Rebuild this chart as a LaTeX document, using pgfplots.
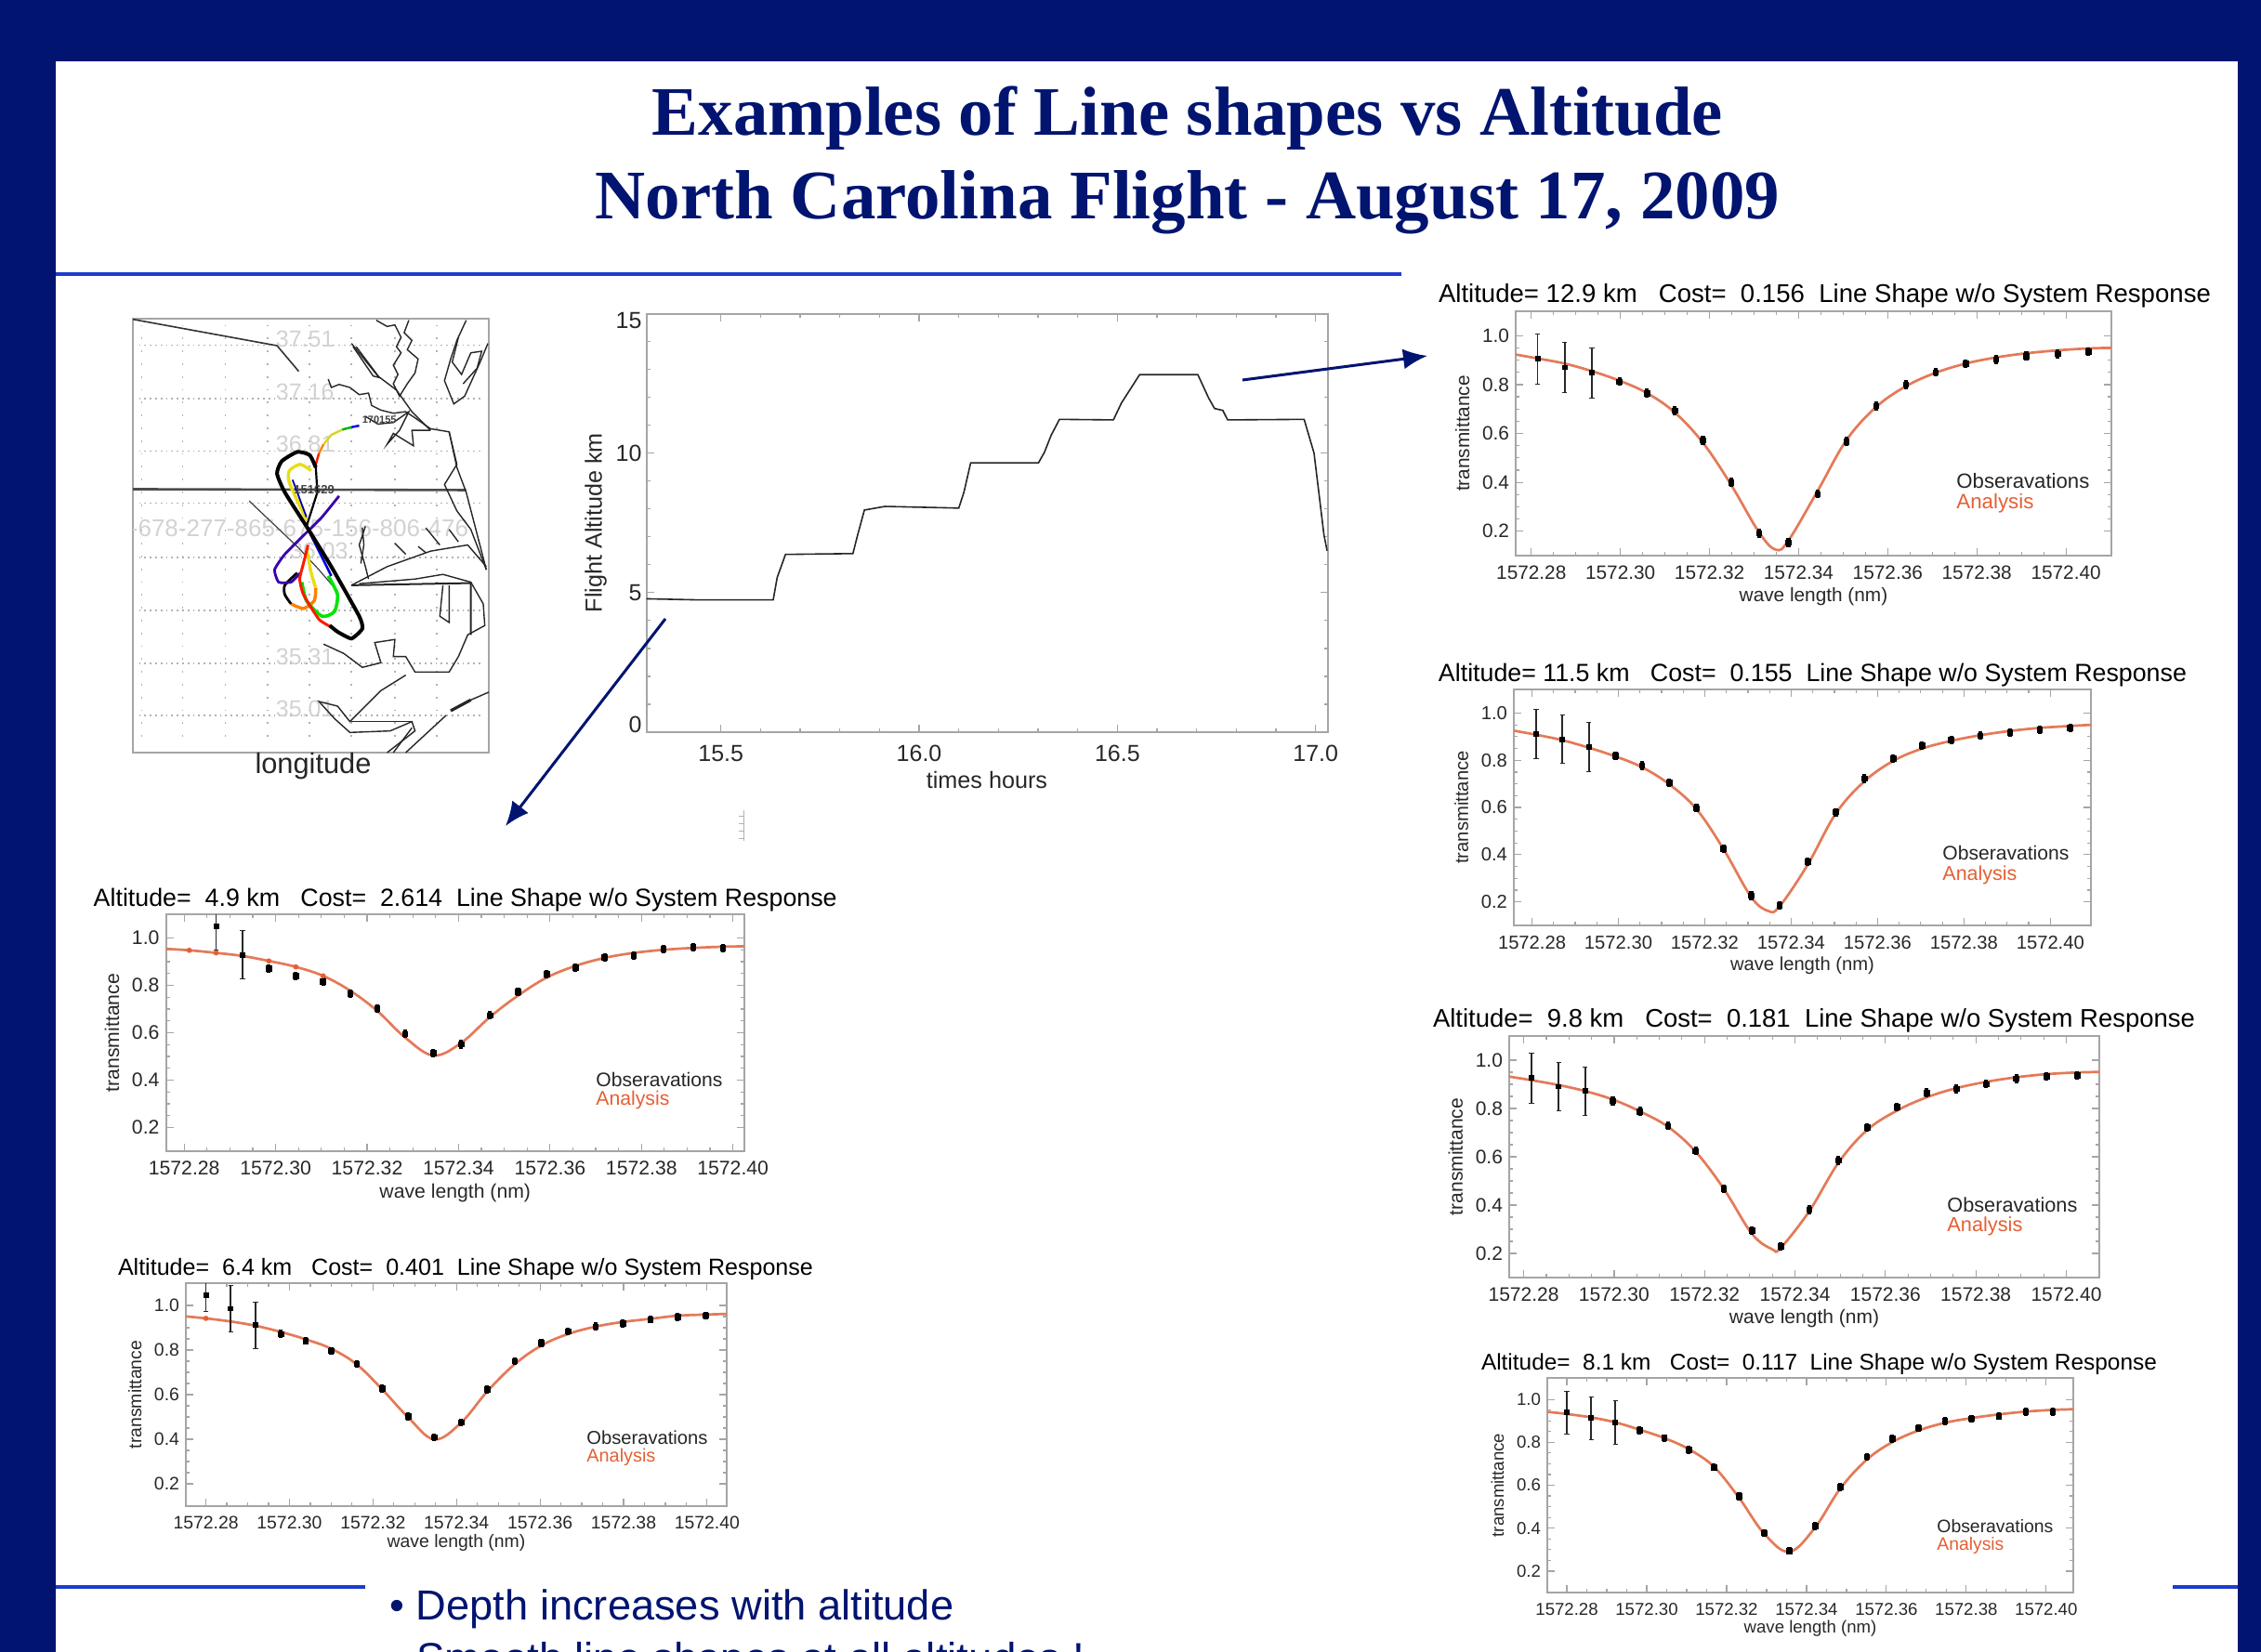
\documentclass[border=0pt]{standalone}
\usepackage{graphicx}
\usepackage{pgfplots}
\pgfplotsset{compat=1.18}
\usepackage{fontspec}
\setmainfont{Liberation Sans}
\newfontfamily\timesfont{Liberation Serif}
\usetikzlibrary{arrows.meta}
\definecolor{slidenavy}{RGB}{0,20,112}
\definecolor{rulecol}{RGB}{30,60,205}
\definecolor{anacol}{RGB}{228,122,88}
\definecolor{anatxt}{RGB}{228,96,52}
\definecolor{axgray}{RGB}{165,165,165}
\definecolor{txt}{RGB}{40,40,40}
\pgfplotsset{
  panel/.style={
    scale only axis, enlargelimits=false, clip=true,
    ymin=0.1, ymax=1.1,
    axis line style={axgray,line width=1pt},
    tick style={axgray,line width=0.6pt},
    tick align=inside,
    major tick length=4pt, minor tick length=2pt,
    xtick={.28,.30,.32,.34,.36,.38,.40},
    xticklabels={1572.28,1572.30,1572.32,1572.34,1572.36,1572.38,1572.40},
    minor x tick num=3,
    ytick={.2,.4,.6,.8,1.0},
    minor y tick num=3,
    yticklabel style={/pgf/number format/.cd,fixed,fixed zerofill,precision=1,assume math mode=true},
    xticklabel style={yshift=-2pt},
    tick label style={text=txt},
    label style={text=txt},
    ylabel={transmittance},
    xlabel={wave length (nm)},
    xlabel style={yshift=2.5pt},
    title style={at={(axis description cs:0.5,1)},anchor=south,inner sep=0pt,text=black},
  },
  psize/.style={
    tick label style={font=\fontsize{#1}{#1}\selectfont},
    label style={font=\fontsize{#1}{#1}\selectfont},
  },
  analine/.style={anacol,line width=1.35pt,smooth,tension=0.6,no markers},
  obsbar/.style={only marks,mark=square*,mark size=1.2pt,black,
     error bars/.cd,y dir=both,y explicit,
     error bar style={txt,line width=0.8pt},error mark options={rotate=90,mark size=1.3pt,txt}},
  obspts/.style={only marks,mark=square*,mark size=1.4pt,black,
     error bars/.cd,y dir=both,y explicit,
     error bar style={black,line width=2.1pt},error mark=none},
  anadot/.style={only marks,mark=*,mark size=1.2pt,anatxt},
  coast/.style={black!85,line width=0.7pt},
}
\newcommand{\alttitle}[3]{\resizebox{#3pt}{!}{Altitude=\ #1 km\ \ \ Cost=\ \ #2\ \ Line Shape w/o System Response}}
\begin{document}
\begin{tikzpicture}
\clip (0pt,0pt) rectangle (1216.5pt,-889pt);
\path[use as bounding box] (0pt,0pt) rectangle (1216.5pt,-889pt);
\fill[slidenavy] (0pt,0pt) rectangle (1216.5pt,-889pt);
\fill[white] (30pt,-33pt) rectangle (1204pt,-889pt);
\fill[rulecol] (30pt,-146.5pt) rectangle (754pt,-148.5pt);
\fill[rulecol] (30pt,-853pt) rectangle (196.5pt,-855pt);
\fill[rulecol] (1169pt,-853pt) rectangle (1204pt,-855pt);

% ---------- map ----------
\begin{axis}[at={(71.5pt,-171.5pt)},anchor=north west,scale only axis,width=191.5pt,height=233.5pt,
  xmin=40,xmax=1188,ymin=40,ymax=1440,y dir=reverse,xtick=\empty,ytick=\empty,
  axis line style={axgray,line width=1.2pt}]
\foreach \yy in {125,297,467,635,810,982,1152,1320}{
  \edef\tmp{\noexpand\addplot[axgray!85,line width=0.8pt,dash pattern=on 0.9pt off 2pt] coordinates {(60,\yy)(1160,\yy)};}\tmp}
\foreach \xx in {68,200,338,475,610,745,885,1020}{
  \edef\tmp{\noexpand\addplot[axgray!85,line width=0.8pt,dash pattern=on 0.9pt off 6pt] coordinates {(\xx,60)(\xx,1425)};}\tmp}
\node[gray!35,font=\fontsize{12.5}{12.5}\selectfont] at (axis cs:595,105) {37.51};
\node[gray!35,font=\fontsize{12.5}{12.5}\selectfont] at (axis cs:595,275) {37.16};
\node[gray!35,font=\fontsize{12.5}{12.5}\selectfont] at (axis cs:595,445) {36.81};
\node[gray!35,font=\fontsize{12.5}{12.5}\selectfont] at (axis cs:640,790) {36.03};
\node[gray!35,font=\fontsize{12.5}{12.5}\selectfont] at (axis cs:595,1130) {35.31};
\node[gray!35,font=\fontsize{12.5}{12.5}\selectfont] at (axis cs:595,1300) {35.01};
\node[gray!35,font=\fontsize{13}{13}\selectfont] at (axis cs:555,715) {5-678-277-865-675-156-806-476};
\addplot[black!80,line width=0.8pt] coordinates {(40,42)(505,127)(575,210)};
\addplot[black!70,line width=1.3pt] coordinates {(40,590)(1115,593)};
\addplot[black!75,line width=0.6pt] coordinates {(415,628)(575,780)(640,850)(700,920)};
\addplot[coast] coordinates {(670,235)(680,262)(705,252)(740,262)(770,285)(800,280)(810,320)(840,335)(880,345)(920,340)(950,360)(1000,395)(1060,405)(1085,520)(1115,600)(1180,850)};
\addplot[coast] coordinates {(745,120)(830,225)(890,270)(940,340)(1000,400)};
\addplot[coast] coordinates {(750,130)(815,225)(835,230)(760,130)};
\addplot[coast] coordinates {(825,45)(860,65)(885,60)(905,100)(890,130)(905,150)(880,190)(895,220)(880,250)(900,290)(925,250)(950,215)(960,170)(925,140)(940,110)(915,85)(930,45)};
\addplot[coast] coordinates {(1115,45)(1085,110)(1065,170)(1045,240)(1075,315)(1110,290)(1160,180)(1185,120)};
\addplot[coast] coordinates {(1090,100)(1070,180)(1100,220)(1130,150)(1165,145)(1150,200)(1105,250)};
\addplot[coast] coordinates {(790,355)(830,380)(880,375)(930,340)(900,400)(860,445)(880,410)(945,450)(940,400)(1000,400)};
\addplot[coast] coordinates {(1060,405)(1085,510)(1045,575)(1085,660)(1130,720)(1180,850)};
\addplot[coast] coordinates {(790,710)(770,770)(790,840)(800,880)};
\addplot[coast] coordinates {(780,715)(785,770)(775,830)};
\addplot[coast] coordinates {(745,900)(860,840)(1000,790)(1120,770)(1180,840)};
\addplot[coast] coordinates {(885,765)(920,800)};
\addplot[coast] coordinates {(960,775)(985,795)};
\addplot[coast] coordinates {(985,715)(1030,770)};
\addplot[coast] coordinates {(1060,720)(1090,760)};
\addplot[black!85,line width=1pt] coordinates {(745,900)(1130,893)(1130,1060)};
\addplot[coast] coordinates {(770,895)(950,880)(1040,865)(1130,890)(1170,960)(1175,1030)(1120,1060)(1090,1130)(1060,1180)(950,1180)(920,1130)(880,1130)(885,1075)(820,1085)(840,1150)(780,1165)(720,1120)(655,1090)};
\addplot[coast] coordinates {(920,1190)(840,1240)(740,1340)(700,1290)(640,1275)(690,1330)(740,1375)(870,1370)(940,1340)(950,1370)(860,1440)};
\addplot[coast] coordinates {(745,1340)(940,1340)};
\addplot[coast] coordinates {(880,1440)(940,1360)};
\addplot[coast] coordinates {(920,1440)(1050,1320)};
\addplot[black!85,line width=1.6pt] coordinates {(1065,1305)(1130,1270)};
\addplot[coast] coordinates {(1130,1270)(1188,1245)};
\addplot[coast] coordinates {(1040,900)(1030,1000)(1060,1020)(1060,900)};
% flight track
\addplot[blue,line width=1.2pt] coordinates {(770,385)(745,390)};
\addplot[green!70!black,line width=1.2pt] coordinates {(745,390)(715,398)};
\addplot[yellow!85!black,line width=1.2pt] coordinates {(715,398)(680,415)(655,445)};
\addplot[orange,line width=1.2pt] coordinates {(655,445)(640,475)};
\addplot[red!80!orange,line width=1.2pt] coordinates {(640,475)(630,510)};
\addplot[black,line width=2pt,smooth,tension=0.35] coordinates {(630,520)(610,480)(570,470)(520,500)(505,540)(530,600)(600,710)};
\addplot[black,line width=1.1pt] coordinates {(630,520)(635,600)(600,710)};
\addplot[yellow!90!black,line width=1.7pt,smooth,tension=0.4] coordinates {(615,530)(580,510)(545,530)(545,570)(600,690)};
\addplot[blue!70!black,line width=0.9pt] coordinates {(555,560)(600,680)};
\addplot[yellow!90!black,line width=1.7pt,smooth,tension=0.3] coordinates {(600,780)(615,860)(630,910)};
\addplot[orange,line width=1.7pt,smooth,tension=0.4] coordinates {(630,910)(625,950)(590,975)(550,960)};
\addplot[black,line width=1.4pt,smooth,tension=0.4] coordinates {(550,960)(530,930)(530,900)(570,860)};
\addplot[blue!50!violet!90!black,line width=1.4pt,smooth,tension=0.3] coordinates {(705,612)(650,680)(600,730)(530,800)(497,850)(510,890)(550,890)(580,860)};
\addplot[green!90!black,line width=1.8pt,smooth,tension=0.4] coordinates {(670,870)(700,930)(690,985)(650,1000)(600,950)(585,890)};
\addplot[red!80!orange,line width=1.5pt,smooth,tension=0.3] coordinates {(605,770)(590,830)(578,880)(590,930)(640,1010)(680,1035)};
\addplot[blue!85!black,line width=1.3pt] coordinates {(610,730)(680,870)};
\addplot[black,line width=2pt,smooth,tension=0.3] coordinates {(600,710)(680,840)(770,1000)(780,1040)(745,1072)(700,1050)(675,1030)};
\node[black!75,font=\fontsize{6.5}{6.5}\selectfont\bfseries] at (axis cs:625,593) {151629};
\node[black!75,font=\fontsize{5.5}{5.5}\selectfont\bfseries] at (axis cs:835,367) {170155};
\end{axis}

% ---------- flight altitude ----------
\begin{axis}[at={(347.75pt,-168.75pt)},anchor=north west,scale only axis,width=366.5pt,height=225.25pt,
  enlargelimits=false,xmin=15.312,xmax=17.03,ymin=0,ymax=15,
  xtick={15.5,16,16.5,17},minor x tick num=4,ytick={0,5,10,15},minor y tick num=4,
  yticklabels={\raisebox{3.9pt}[\height][\depth]{0},5,10,\raisebox{-3.9pt}[\height][\depth]{15}},
  axis line style={axgray,line width=1pt},tick style={axgray,line width=0.6pt},tick align=inside,
  major tick length=4pt,minor tick length=2pt,
  tick label style={font=\fontsize{12.5}{12.5}\selectfont,text=txt},
  label style={font=\fontsize{12.6}{12.6}\selectfont,text=txt},
  xticklabel style={yshift=-3.5pt,/pgf/number format/.cd,fixed,fixed zerofill,precision=1,assume math mode=true},
  yticklabel style={xshift=1pt},
  xlabel style={yshift=1.5pt},ylabel style={yshift=-2pt},
  xlabel={times hours},ylabel={Flight Altitude km},
]
\addplot[black!85,line width=0.8pt] coordinates {
 (15.312,4.78)(15.4435,4.74)(15.632,4.74)(15.642,5.54)(15.663,6.37)(15.833,6.40)(15.845,7.07)(15.862,7.96)(15.914,8.09)(16.100,8.03)(16.113,8.6)(16.130,9.65)(16.301,9.65)(16.316,10.03)(16.333,10.64)(16.354,11.21)(16.490,11.19)(16.510,11.79)(16.556,12.81)(16.703,12.81)(16.730,11.98)(16.745,11.6)(16.766,11.53)(16.778,11.19)(16.971,11.21)(16.996,10.0)(17.008,8.6)(17.021,7.07)(17.029,6.5)};
\end{axis}

% x values below are wavelength minus 1572 nm (1572.xx is beyond pgfplots' numeric precision)
% ---------- 12.9 km ----------
\begin{axis}[panel,psize=10.4,at={(815.5pt,-167.5pt)},anchor=north west,width=320.5pt,height=131.5pt,xmin=.2765,xmax=.4102,
  title={\alttitle{12.9}{0.156}{415.5}},title style={xshift=6pt,yshift=-4.5pt}]
\addplot[analine] coordinates {(.27649,.923)(.28140,.907)(.28749,.886)(.29358,.855)(.29978,.816)(.30599,.765)(.31219,.686)(.31852,.562)(.32484,.39)(.33116,.194)(.33491,.124)(.33772,.162)(.34427,.365)(.35071,.572)(.35738,.708)(.36406,.793)(.37073,.848)(.37752,.886)(.38431,.911)(.39110,.928)(.39812,.94)(.40503,.948)(.41018,.95)};
\addplot[obsbar] coordinates {(.28140,.905)+-(0,.104)(.28749,.87)+-(0,.103)(.29358,.848)+-(0,.102)};
\addplot[obspts] coordinates {(.29978,.812)+-(0,.018)(.30599,.765)+-(0,.018)(.31219,.694)+-(0,.018)(.31852,.572)+-(0,.018)(.32484,.40)+-(0,.018)(.33116,.191)+-(0,.018)(.33772,.153)+-(0,.018)(.34427,.352)+-(0,.018)(.35071,.567)+-(0,.018)(.35738,.712)+-(0,.018)(.36406,.80)+-(0,.018)(.37073,.85)+-(0,.018)(.37752,.886)+-(0,.018)(.38431,.903)+-(0,.018)(.39110,.917)+-(0,.018)(.39812,.926)+-(0,.018)(.40503,.935)+-(0,.018)};
\end{axis}

% ---------- 11.5 km ----------
\begin{axis}[panel,psize=10.1,at={(814.5pt,-371pt)},anchor=north west,width=310.5pt,height=127pt,xmin=.2758,xmax=.4094,
  title={\alttitle{11.5}{0.155}{402.5}},title style={xshift=5.5pt,yshift=-4.5pt}]
\addplot[analine] coordinates {(.27589,.925)(.28097,.908)(.28701,.885)(.29317,.853)(.29934,.816)(.3055,.77)(.31178,.698)(.31807,.593)(.32435,.423)(.33076,.22)(.33474,.161)(.33728,.18)(.34381,.357)(.35033,.574)(.35698,.711)(.36362,.797)(.37027,.849)(.37704,.882)(.38381,.906)(.39069,.924)(.39758,.937)(.40459,.945)(.40943,.95)};
\addplot[obsbar] coordinates {(.28097,.911)+-(0,.103)(.28701,.889)+-(0,.102)(.29317,.856)+-(0,.103)};
\addplot[obspts] coordinates {(.29934,.82)+-(0,.018)(.3055,.777)+-(0,.018)(.31178,.705)+-(0,.018)(.31807,.597)+-(0,.018)(.32435,.426)+-(0,.018)(.33076,.226)+-(0,.018)(.33728,.184)+-(0,.018)(.34381,.37)+-(0,.018)(.35033,.58)+-(0,.018)(.35698,.722)+-(0,.018)(.36362,.807)+-(0,.018)(.37027,.862)+-(0,.018)(.37704,.885)+-(0,.018)(.38381,.904)+-(0,.018)(.39069,.917)+-(0,.018)(.39758,.93)+-(0,.018)(.40459,.937)+-(0,.018)};
\end{axis}

% ---------- 9.8 km ----------
\begin{axis}[panel,psize=10.5,at={(812pt,-557.5pt)},anchor=north west,width=317.5pt,height=130pt,xmin=.2768,xmax=.4073,
  title={\alttitle{\ 9.8}{0.181}{410}},title style={xshift=5.25pt,yshift=-4.5pt}]
\addplot[analine] coordinates {(.27677,.932)(.28173,.917)(.28772,.897)(.2936,.872)(.29971,.837)(.30571,.788)(.31193,.724)(.31804,.621)(.32427,.467)(.33049,.281)(.33499,.217)(.33683,.223)(.34317,.375)(.34963,.576)(.35597,.711)(.36254,.791)(.36911,.846)(.37568,.884)(.38225,.91)(.38893,.929)(.39562,.942)(.40242,.949)(.40726,.951)};
\addplot[obsbar] coordinates {(.28173,.927)+-(0,.104)(.28772,.891)+-(0,.101)(.2936,.872)+-(0,.101)};
\addplot[obspts] coordinates {(.29971,.831)+-(0,.018)(.30571,.788)+-(0,.018)(.31193,.728)+-(0,.018)(.31804,.624)+-(0,.018)(.32427,.467)+-(0,.018)(.33049,.294)+-(0,.018)(.33683,.23)+-(0,.018)(.34317,.381)+-(0,.018)(.34963,.585)+-(0,.018)(.35597,.721)+-(0,.018)(.36254,.807)+-(0,.018)(.36911,.865)+-(0,.018)(.37568,.881)+-(0,.018)(.38225,.901)+-(0,.018)(.38893,.923)+-(0,.018)(.39562,.932)+-(0,.018)(.40242,.936)+-(0,.018)};
\end{axis}

% ---------- 8.1 km ----------
\begin{axis}[panel,psize=9.3,at={(832.5pt,-741.5pt)},anchor=north west,width=283pt,height=115.5pt,xmin=.2751,xmax=.4068,
  title={\alttitle{\ 8.1}{0.117}{363.5}},title style={xshift=4.75pt,yshift=-4.5pt},xlabel style={yshift=1.5pt}]
\addplot[analine] coordinates {(.27513,.942)(.28,.932)(.28606,.916)(.29212,.893)(.29818,.859)(.30436,.82)(.31053,.768)(.31683,.686)(.32313,.541)(.32942,.374)(.33572,.29)(.34214,.403)(.34843,.584)(.35509,.719)(.3615,.801)(.36804,.855)(.37469,.891)(.38134,.913)(.38812,.93)(.39489,.943)(.40166,.951)(.40677,.954)};
\addplot[obsbar] coordinates {(.28,.939)+-(0,.1)(.28606,.913)+-(0,.1)(.29212,.893)+-(0,.1)};
\addplot[obspts] coordinates {(.29818,.855)+-(0,.018)(.30436,.82)+-(0,.018)(.31053,.765)+-(0,.018)(.31683,.684)+-(0,.018)(.32313,.548)+-(0,.018)(.32942,.378)+-(0,.018)(.33572,.294)+-(0,.018)(.34214,.41)+-(0,.018)(.34843,.591)+-(0,.018)(.35509,.733)+-(0,.018)(.3615,.816)+-(0,.018)(.36804,.867)+-(0,.018)(.37469,.899)+-(0,.018)(.38134,.91)+-(0,.018)(.38812,.922)+-(0,.018)(.39489,.942)+-(0,.018)(.40166,.942)+-(0,.018)};
\end{axis}

% ---------- 4.9 km ----------
\begin{axis}[panel,psize=10.6,at={(89.25pt,-492pt)},anchor=north west,width=311.25pt,height=127.5pt,xmin=.276,xmax=.4025,
  title={\alttitle{\ 4.9}{2.614}{400}},title style={xshift=5.5pt,yshift=-4.5pt}]
\addplot[analine] coordinates {(.27605,.954)(.28111,.948)(.28699,.937)(.29276,.924)(.29853,.903)(.30441,.878)(.31038,.84)(.31635,.777)(.32223,.692)(.3283,.58)(.33448,.504)(.34056,.557)(.34684,.666)(.35301,.757)(.35929,.833)(.36557,.882)(.37195,.916)(.37833,.937)(.38481,.95)(.39129,.958)(.39777,.963)(.40284,.965)};
\addplot[anadot] coordinates {(.28111,.948)(.28699,.937)(.29853,.903)(.30441,.878)(.31038,.84)};
\addplot[obsbar] coordinates {(.28699,1.05)+-(0,.1)(.29276,.928)+-(0,.102)};
\addplot[obspts] coordinates {(.29853,.871)+-(0,.018)(.30441,.84)+-(0,.018)(.31038,.816)+-(0,.018)(.31635,.764)+-(0,.018)(.32223,.702)+-(0,.018)(.3283,.595)+-(0,.018)(.33448,.513)+-(0,.018)(.34056,.551)+-(0,.018)(.34684,.673)+-(0,.018)(.35301,.772)+-(0,.018)(.35929,.847)+-(0,.018)(.36557,.874)+-(0,.018)(.37195,.919)+-(0,.018)(.37833,.925)+-(0,.018)(.38481,.953)+-(0,.018)(.39129,.961)+-(0,.018)(.39777,.957)+-(0,.018)};
\end{axis}

% ---------- 6.4 km ----------
\begin{axis}[panel,psize=9.7,at={(100pt,-690.5pt)},anchor=north west,width=291pt,height=120pt,xmin=.2752,xmax=.4047,
  title={\alttitle{\ 6.4}{0.401}{374}},title style={xshift=5pt,yshift=-4.5pt},xlabel style={yshift=1.5pt}]
\addplot[analine] coordinates {(.27516,.951)(.28,.942)(.28594,.928)(.29188,.909)(.29797,.881)(.30391,.848)(.31,.806)(.31609,.736)(.32219,.624)(.32844,.498)(.33469,.399)(.34109,.474)(.34734,.614)(.35391,.736)(.36031,.82)(.36672,.872)(.37328,.905)(.37984,.926)(.38641,.94)(.39297,.954)(.39969,.959)(.40469,.962)};
\addplot[anadot] coordinates {(.28,.942)};
\addplot[obsbar] coordinates {(.28,1.045)+-(0,.07)(.28594,.986)+-(0,.105)(.29188,.912)+-(0,.105)};
\addplot[obspts] coordinates {(.29797,.872)+-(0,.018)(.30391,.841)+-(0,.018)(.31,.796)+-(0,.018)(.31609,.738)+-(0,.018)(.32219,.627)+-(0,.018)(.32844,.502)+-(0,.018)(.33469,.409)+-(0,.018)(.34109,.475)+-(0,.018)(.34734,.624)+-(0,.018)(.35391,.75)+-(0,.018)(.36031,.832)+-(0,.018)(.36672,.884)+-(0,.018)(.37328,.905)+-(0,.018)(.37984,.919)+-(0,.018)(.38641,.937)+-(0,.018)(.39297,.949)+-(0,.018)(.39969,.954)+-(0,.018)};
\end{axis}

\begin{scope}[x=0.5pt,y=-0.5pt]
% title
\node[inner sep=0pt,anchor=base,text=slidenavy] at (1278,145) {\resizebox{576pt}{!}{\timesfont\bfseries Examples of Line shapes vs Altitude}};
\node[inner sep=0pt,anchor=base,text=slidenavy] at (1278,235) {\resizebox{637pt}{!}{\timesfont\bfseries North Carolina Flight - August 17, 2009}};
% arrows
\draw[slidenavy,line width=1.5pt,-{Latex[length=13pt,width=11pt]}] (1337,409)--(1536,383);
\draw[slidenavy,line width=1.5pt,-{Latex[length=13pt,width=11pt]}] (716,666)--(544,889);
\draw[gray!60,line width=0.4pt] (800,872)--(800,905);
\foreach \yy in {878,886,894,902}{\draw[gray!60,line width=0.4pt] (795,\yy)--(800,\yy);}
% longitude
\node[inner sep=0pt,text=black!85] at (337,825) {\resizebox{62.5pt}{!}{longitude}};
% legends
\newcommand{\legtxt}[5]{%
  \node[inner sep=0pt,anchor=west,text=black!85] at (#1,#2) {\resizebox{#3pt}{!}{Obseravations}};
  \node[inner sep=0pt,anchor=west,text=anatxt] at (#1,#4) {\resizebox{#5pt}{!}{Analysis}};}
\legtxt{2105}{518}{71.5}{542}{41.5}
\legtxt{2090}{918}{68}{942}{40}
\legtxt{2095}{1297}{70}{1320}{40.5}
\legtxt{2084}{1643}{62.5}{1663}{36}
\legtxt{641}{1162}{68}{1184}{39.5}
\legtxt{631}{1547}{65}{1568}{37}
% bullets
\node[inner sep=0pt,anchor=base west,text=slidenavy] at (419,1743) {\resizebox{303.5pt}{!}{• Depth increases with altitude}};
\node[inner sep=0pt,anchor=base west,text=slidenavy] at (419,1800) {\resizebox{374pt}{!}{• Smooth line shapes at all altitudes !}};
\end{scope}
\end{tikzpicture}
\end{document}
